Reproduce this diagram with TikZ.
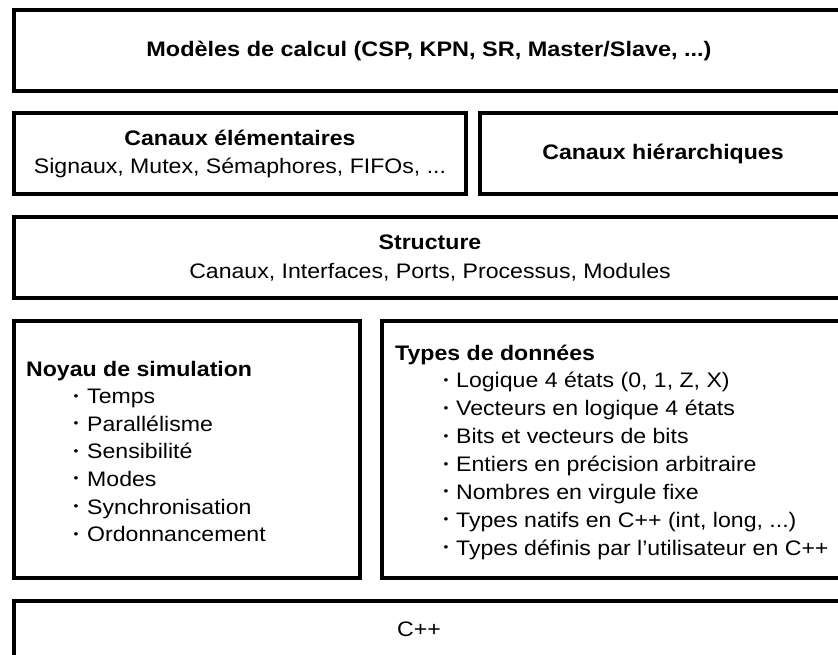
\documentclass[tikz,border=0pt]{standalone}
\usepackage{fontspec}
\setmainfont[FakeStretch=1.1]{Liberation Sans}
\usepackage{graphicx}
\newcommand{\smallbullet}{\scalebox{0.6}{•}}
\begin{document}
\begin{tikzpicture}[x=1pt,y=-1pt,
  box/.style={draw=black,line width=4pt,fill=white},
  txt/.style={inner sep=0pt,font=\fontsize{21}{28}\selectfont},
  head/.style={txt,font=\fontsize{21}{28}\selectfont\bfseries},
  item/.style={txt,anchor=base west},
  dot/.style={inner sep=0pt,anchor=center,font=\fontsize{21}{28}\selectfont}]
\useasboundingbox (0,0) rectangle (838,655);
\clip (0,0) rectangle (838,655);

% layers of the architecture
\draw[box] (14,10) rectangle (846,91);
\draw[box] (14,113) rectangle (466,194);
\draw[box] (480,113) rectangle (846,194);
\draw[box] (14,217) rectangle (846,298);
\draw[box] (14,321) rectangle (360,578);
\draw[box] (382,321) rectangle (846,578);
\draw[box] (14,601) rectangle (846,690);

% top layers
\node[head,anchor=base,xscale=1.015] (moc) at (429,57) {Modèles de calcul (CSP, KPN, SR, Master/Slave, ...)};
\node[head,anchor=base] (elem) at (240,146) {Canaux élémentaires};
\node[txt,anchor=base] (elemlist) at (240,174) {Signaux, Mutex, Sémaphores, FIFOs, ...};
\node[head,anchor=base] (hier) at (663,160) {Canaux hiérarchiques};
\node[head,anchor=base] (struct) at (430,250) {Structure};
\node[txt,anchor=base] (structlist) at (430,278) {Canaux, Interfaces, Ports, Processus, Modules};

% simulation kernel
\node[head,anchor=base west] (kern) at (26,376) {Noyau de simulation};
\node[item] (k1) at (87,403.6) {Temps};
\node[item] (k2) at (87,431.2) {Parallélisme};
\node[item] (k3) at (87,458.8) {Sensibilité};
\node[item] (k4) at (87,486.4) {Modes};
\node[item] (k5) at (87,514.0) {Synchronisation};
\node[item] (k6) at (87,541.6) {Ordonnancement};
\foreach \i in {1,...,6}
  \node[dot] (kd\i) at ([xshift=-11pt,yshift=6.5pt]k\i.base west) {\smallbullet};

% data types
\node[head,anchor=base west] (types) at (395,360) {Types de données};
\node[item] (t1) at (456,387.9) {Logique 4 états (0, 1, Z, X)};
\node[item] (t2) at (456,415.8) {Vecteurs en logique 4 états};
\node[item] (t3) at (456,443.7) {Bits et vecteurs de bits};
\node[item] (t4) at (456,471.6) {Entiers en précision arbitraire};
\node[item] (t5) at (456,499.5) {Nombres en virgule fixe};
\node[item] (t6) at (456,527.4) {Types natifs en C++ (int, long, ...)};
\node[item] (t7) at (456,555.3) {Types définis par l’utilisateur en C++};
\foreach \i in {1,...,7}
  \node[dot] (td\i) at ([xshift=-10pt,yshift=6.5pt]t\i.base west) {\smallbullet};

% base language
\node[txt,anchor=base] (cpp) at (419,636) {C++};
\end{tikzpicture}
\end{document}
